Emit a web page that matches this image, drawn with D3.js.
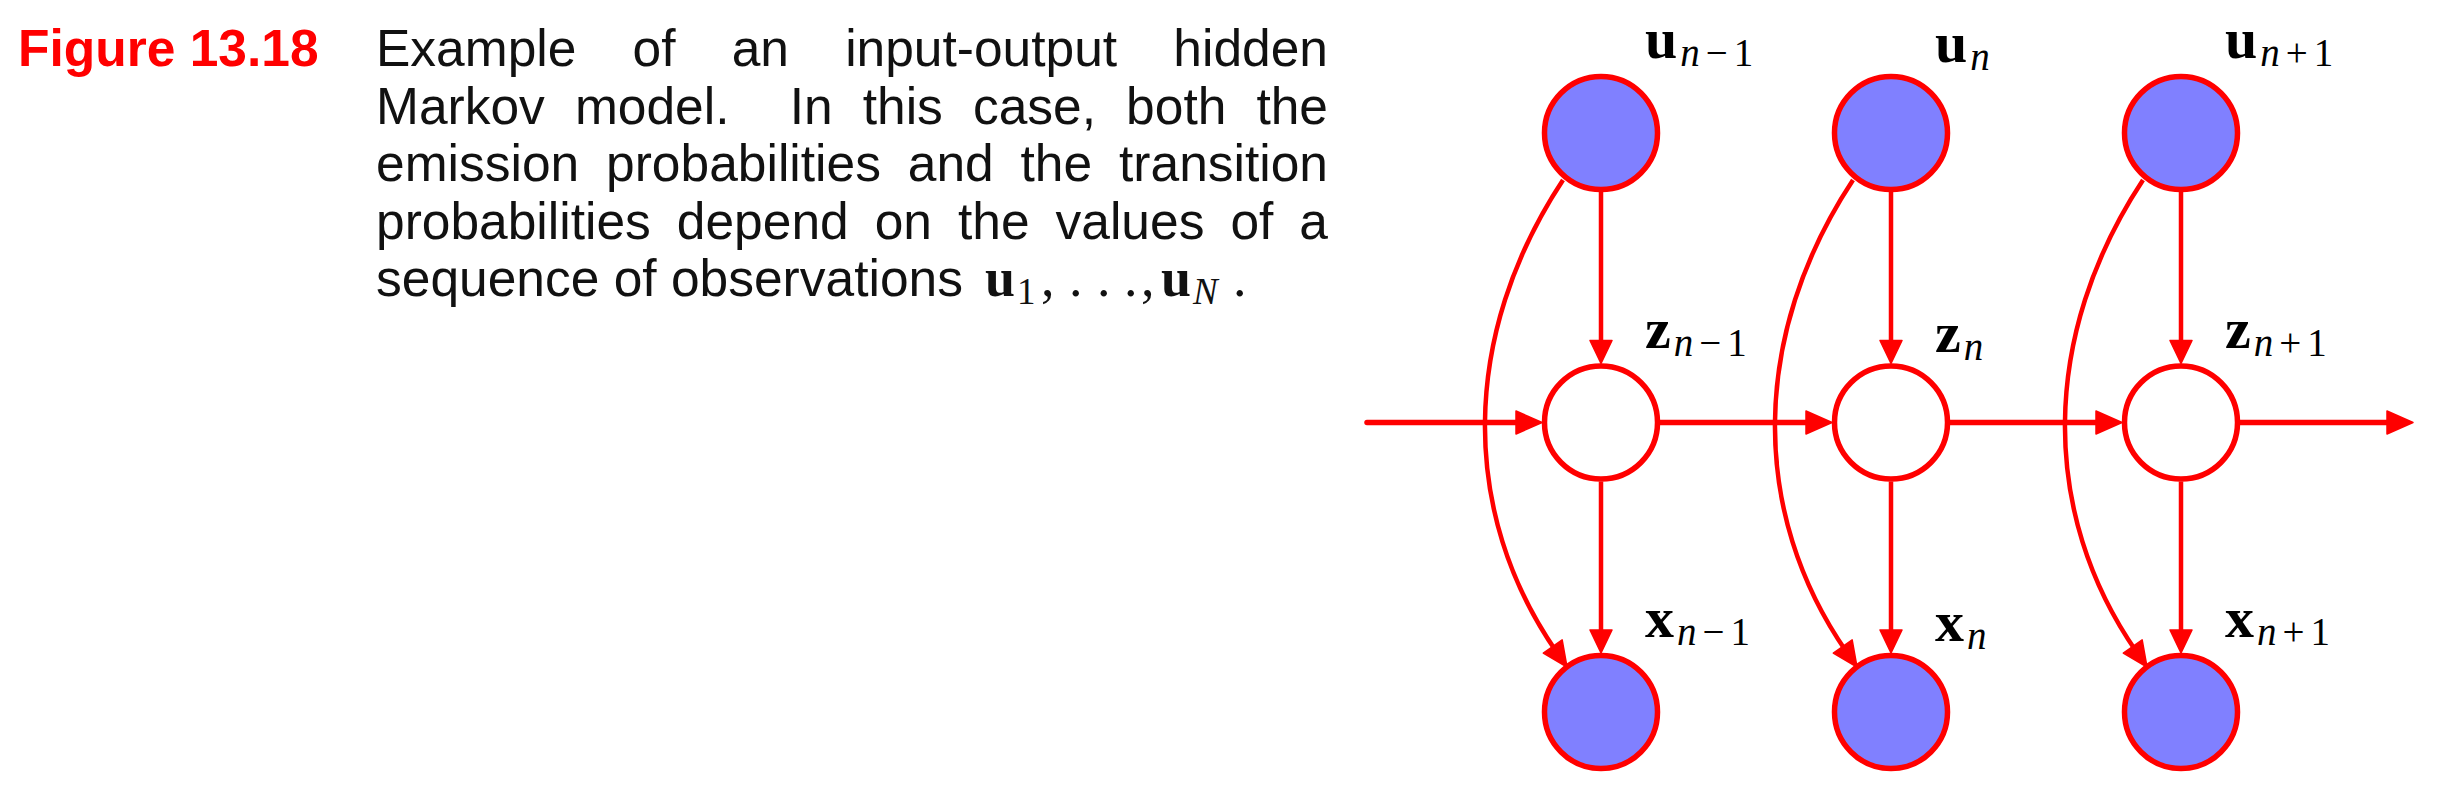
<!DOCTYPE html>
<html>
<head>
<meta charset="utf-8">
<script src="https://cdn.jsdelivr.net/npm/d3@7"></script>
<style>
  html, body { margin: 0; padding: 0; background: #fff; }
</style>
</head>
<body>
<div id="fig"></div>
<script>
// ---- data -------------------------------------------------------------
const columns = ["n-1", "n", "n+1"];          // time steps
const rows = ["u", "z", "x"];                 // variable rows, top to bottom
const observed = { u: true, z: false, x: true };
const subLabels = { "n-1": ["n", "\u2212", "1"], "n": ["n"], "n+1": ["n", "+", "1"] };

const figureLabel = "Figure 13.18";
const captionLines = [
  "Example of an input-output hidden",
  "Markov model.  In this case, both the",
  "emission probabilities and the transition",
  "probabilities depend on the values of a",
  "sequence of observations"
];

// ---- layout -----------------------------------------------------------
const W = 2442, H = 798;
const red = "#ff0000", blue = "#8080ff";
const r = 56.5;            // node radius (centre of stroke)
const rOut = 59;           // outer edge, where arrow tips touch

const svg = d3.select("#fig").append("svg")
  .attr("width", W)
  .attr("height", H)
  .attr("viewBox", [0, 0, W, H]);

svg.append("rect").attr("width", W).attr("height", H).attr("fill", "#fff");

// scales for the graph
const x = d3.scalePoint().domain(columns).range([1601, 2181]);
const y = d3.scalePoint().domain(rows).range([133, 712]);

// ---- caption ----------------------------------------------------------
const sans = "'Liberation Sans', Arial, Helvetica, sans-serif";
const serif = "'Liberation Serif', 'Times New Roman', serif";
const capX = 376, capR = 1328, capY = 66, lead = 57.5, capSize = 51.5;

svg.append("text")
  .attr("x", 18)
  .attr("y", capY)
  .attr("font-family", sans)
  .attr("font-weight", "bold")
  .attr("font-size", capSize)
  .attr("fill", red)
  .text(figureLabel);

const cap = svg.append("text")
  .attr("font-family", sans)
  .attr("font-size", capSize)
  .attr("fill", "#111");

let lastEnd = capX;
captionLines.forEach((line, i) => {
  const parts = line.split(/( +)/);
  const words = parts.filter((p, k) => k % 2 === 0);
  const gaps = parts.filter((p, k) => k % 2 === 1).map(s => s.length);
  const spans = words.map(w => cap.append("tspan").attr("y", capY + i * lead).text(w));
  const widths = spans.map(s => s.node().getComputedTextLength());
  const justify = i < captionLines.length - 1;
  const unit = justify
    ? (capR - capX - d3.sum(widths)) / d3.sum(gaps)
    : 0.278 * capSize;
  let cx = capX;
  spans.forEach((s, k) => {
    s.attr("x", cx);
    cx += widths[k] + (k < gaps.length ? gaps[k] * unit : 0);
  });
  lastEnd = cx;
});

// math at the end of the caption: u_1, ..., u_N.
const mathY = capY + (captionLines.length - 1) * lead;
const mathX = lastEnd + 22;
const mathRun = [
  { t: "u", off: 0, bold: true },
  { t: "1", off: 32, sub: true },
  { t: ",", off: 56 },
  { t: ".", off: 84 },
  { t: ".", off: 112 },
  { t: ".", off: 139 },
  { t: ",", off: 156 },
  { t: "u", off: 176, bold: true },
  { t: "N", off: 208, sub: true, italic: true },
  { t: ".", off: 248 }
];
svg.append("g").selectAll("text")
  .data(mathRun)
  .join("text")
  .attr("x", d => mathX + d.off)
  .attr("y", d => mathY + (d.sub ? 8 : 0))
  .attr("font-family", serif)
  .attr("font-size", d => d.sub ? 37 : 54)
  .attr("font-weight", d => d.bold ? "bold" : "normal")
  .attr("font-style", d => d.italic ? "italic" : "normal")
  .attr("fill", "#111")
  .text(d => d.t);

// ---- graph ------------------------------------------------------------
const g = svg.append("g");

function arrowHead(tip, dir, len, half) {
  const [tx, ty] = tip, [dx, dy] = dir;
  const bx = tx - dx * len, by = ty - dy * len;
  return [[tx, ty], [bx - dy * half, by + dx * half], [bx + dy * half, by - dx * half]];
}

const heads = [];

// horizontal chain z_{n-1} -> z_n -> z_{n+1}
const zy = y("z");
const chainLead = 234;
const segs = [];
columns.forEach((c, i) => {
  const from = i === 0 ? x(c) - chainLead : x(columns[i - 1]) + rOut;
  segs.push({ x1: from, x2: x(c) - rOut });
});
segs.push({ x1: x(columns[columns.length - 1]) + rOut, x2: x(columns[columns.length - 1]) + chainLead - 2 });

g.append("g").selectAll("line")
  .data(segs)
  .join("line")
  .attr("x1", d => d.x1)
  .attr("x2", d => d.x2 - 20)
  .attr("y1", zy)
  .attr("y2", zy)
  .attr("stroke", red)
  .attr("stroke-width", 5.5)
  .attr("stroke-linecap", "round");
segs.forEach(d => heads.push(arrowHead([d.x2, zy], [1, 0], 26, 11.5)));

// vertical arrows u -> z -> x
const vert = [];
columns.forEach(c => {
  vert.push({ c, y1: y("u") + rOut, y2: y("z") - rOut });
  vert.push({ c, y1: y("z") + rOut, y2: y("x") - rOut });
});
g.append("g").selectAll("line")
  .data(vert)
  .join("line")
  .attr("x1", d => x(d.c))
  .attr("x2", d => x(d.c))
  .attr("y1", d => d.y1)
  .attr("y2", d => d.y2 - 18)
  .attr("stroke", red)
  .attr("stroke-width", 4.5);
vert.forEach(d => heads.push(arrowHead([x(d.c), d.y2], [0, 1], 23, 11)));

// curved arrows u -> x, bending left of z
const curves = columns.map(c => {
  const cx = x(c), uy = y("u"), xy = y("x");
  const p0 = [cx - 38, uy + 47];
  const p1 = [cx - 141, uy + 203];
  const p2 = [cx - 141, xy - 199];
  const p3 = [cx - 34, xy - 45];
  const L = Math.hypot(p3[0] - p2[0], p3[1] - p2[1]);
  const dir = [(p3[0] - p2[0]) / L, (p3[1] - p2[1]) / L];
  return { p0, p1, p2, p3, dir };
});
g.append("g").selectAll("path")
  .data(curves)
  .join("path")
  .attr("d", d => {
    const p = d3.path();
    const e = [d.p3[0] - d.dir[0] * 18, d.p3[1] - d.dir[1] * 18];
    p.moveTo(...d.p0);
    p.bezierCurveTo(...d.p1, ...d.p2, ...e);
    return p.toString();
  })
  .attr("fill", "none")
  .attr("stroke", red)
  .attr("stroke-width", 4.5);
curves.forEach(d => heads.push(arrowHead(d.p3, d.dir, 25, 11.5)));

g.append("g").selectAll("path")
  .data(heads)
  .join("path")
  .attr("d", d => "M" + d.join("L") + "Z")
  .attr("fill", red)
  .attr("stroke", red)
  .attr("stroke-width", 1.5)
  .attr("stroke-linejoin", "round");

// nodes
const nodes = rows.flatMap(rw => columns.map(c => ({ rw, c })));
g.append("g").selectAll("circle")
  .data(nodes)
  .join("circle")
  .attr("cx", d => x(d.c))
  .attr("cy", d => y(d.rw))
  .attr("r", r)
  .attr("fill", d => observed[d.rw] ? blue : "#fff")
  .attr("stroke", red)
  .attr("stroke-width", 5.5);

// node labels: bold letter with italic-n subscript
const labels = g.append("g").selectAll("text")
  .data(nodes)
  .join("text")
  .attr("x", d => x(d.c) + 44)
  .attr("y", d => y(d.rw) - (subLabels[d.c].length === 1 ? 71 : 75))
  .attr("font-family", serif)
  .attr("fill", "#000");

labels.append("tspan")
  .attr("font-weight", "bold")
  .attr("font-size", 58)
  .text(d => d.rw);

labels.each(function (d) {
  const t = d3.select(this);
  subLabels[d.c].forEach((s, k) => {
    t.append("tspan")
      .attr("font-size", 39)
      .attr("font-style", s === "n" ? "italic" : "normal")
      .attr("dx", k === 0 ? 3 : 6)
      .attr("dy", k === 0 ? 8 : 0)
      .text(s);
  });
});
</script>
</body>
</html>
